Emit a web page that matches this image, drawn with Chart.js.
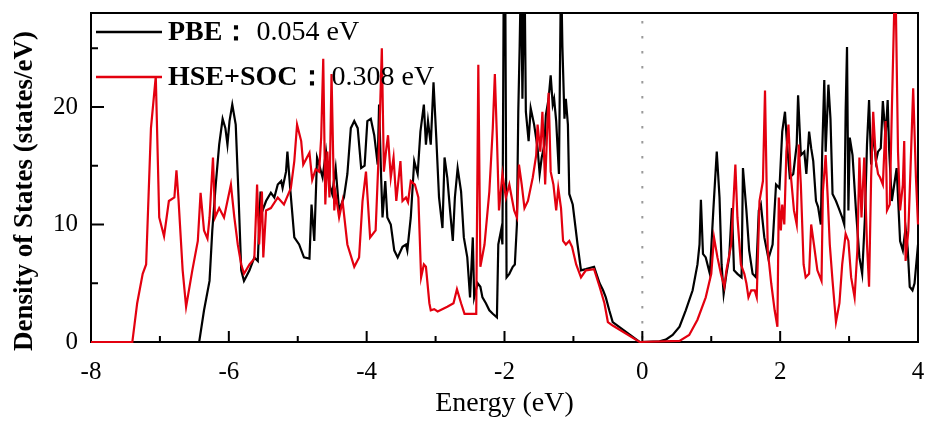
<!DOCTYPE html>
<html>
<head>
<meta charset="utf-8">
<script src="https://cdn.jsdelivr.net/npm/chart.js@4.4.1/dist/chart.umd.min.js"></script>
<style>
  html, body { margin: 0; padding: 0; background: #fff; }
  #wrap { width: 926px; height: 422px; }
</style>
</head>
<body>
<div id="wrap"><canvas id="dos"></canvas></div>
<script>
// Energy (eV) / DOS (states/eV)
const pbeEnergy = [
  -8, -6.43, -6.36, -6.28, -6.24, -6.19, -6.14, -6.09, -6.05, -6.02,
  -5.99, -5.95, -5.90, -5.86, -5.82, -5.78, -5.70, -5.63, -5.58, -5.54,
  -5.51, -5.46, -5.39, -5.34, -5.29, -5.24, -5.22, -5.17, -5.15, -5.11,
  -5.05, -4.98, -4.91, -4.83, -4.80, -4.76, -4.72, -4.69, -4.64, -4.59,
  -4.54, -4.50, -4.45, -4.40, -4.33, -4.28, -4.23, -4.18, -4.13, -4.08,
  -4.03, -3.99, -3.94, -3.89, -3.84, -3.82, -3.79, -3.77, -3.73, -3.70,
  -3.65, -3.60, -3.55, -3.48, -3.43, -3.41, -3.36, -3.31, -3.26, -3.22,
  -3.17, -3.14, -3.11, -3.07, -3.03, -2.99, -2.95, -2.90, -2.87, -2.83,
  -2.79, -2.75, -2.72, -2.68, -2.63, -2.59, -2.54, -2.50, -2.46, -2.44,
  -2.39, -2.35, -2.32, -2.27, -2.22, -2.17, -2.11, -2.09, -2.05, -2.03,
  -2.01, -1.99, -1.97, -1.93, -1.88, -1.85, -1.82, -1.80, -1.78, -1.76,
  -1.74, -1.71, -1.69, -1.65, -1.62, -1.57, -1.52, -1.49, -1.46, -1.42,
  -1.40, -1.36, -1.33, -1.30, -1.28, -1.25, -1.21, -1.18, -1.16, -1.13,
  -1.11, -1.08, -1.06, -1.01, -0.94, -0.89, -0.82, -0.70, -0.62, -0.57,
  -0.53, -0.48, -0.43, -0.04, 0.25, 0.34, 0.44, 0.54, 0.63,
  0.73, 0.80, 0.83, 0.85, 0.88, 0.92, 0.98, 1.03, 1.08, 1.12,
  1.15, 1.18, 1.22, 1.26, 1.30, 1.33, 1.38, 1.44, 1.46, 1.51,
  1.55, 1.60, 1.65, 1.69, 1.72, 1.77, 1.83, 1.89, 1.94, 1.99,
  2.03, 2.07, 2.10, 2.14, 2.19, 2.24, 2.26, 2.30, 2.35, 2.38,
  2.42, 2.45, 2.48, 2.52, 2.55, 2.59, 2.61, 2.64, 2.66, 2.70,
  2.73, 2.76, 2.81, 2.85, 2.90, 2.93, 2.95, 2.97, 2.99, 3.01,
  3.05, 3.10, 3.15, 3.19, 3.23, 3.26, 3.29, 3.32, 3.35, 3.39,
  3.42, 3.46, 3.49, 3.53, 3.56, 3.58, 3.62, 3.69, 3.74, 3.78,
  3.82, 3.85, 3.88, 3.92, 3.95, 4.00
];
const pbeDos = [
  0, 0, 2.7, 5.2, 9.5, 13.4, 16.8, 19.0, 18.2, 16.8,
  18.8, 20.2, 18.5, 12.6, 6.1, 5.2, 6.1, 7.2, 6.9, 12.8,
  11.2, 12.0, 12.7, 12.3, 13.4, 13.7, 13.1, 14.5, 16.2, 13.1,
  8.9, 8.3, 7.2, 7.1, 11.7, 8.6, 15.7, 15.1, 14.0, 16.2,
  13.4, 12.6, 14.8, 11.2, 12.3, 14.3, 18.2, 18.8, 18.2, 14.8,
  15.0, 18.8, 19.0, 17.6, 15.1, 20.2, 14.0, 10.6, 13.7, 10.6,
  10.0, 7.8, 7.2, 8.1, 8.3, 7.8, 10.6, 15.4, 14.3, 17.9,
  20.2, 16.8, 18.8, 16.8, 22.1, 17.4, 12.3, 9.7, 15.7, 14.0,
  11.2, 8.6, 12.3, 14.8, 12.8, 8.9, 7.2, 3.8, 8.9, 3.8,
  5.0, 4.7, 3.8, 3.3, 2.7, 2.4, 2.1, 8.3, 9.5, 8.3,
  32, 32, 5.5, 5.8, 6.4, 6.6, 10.0, 19.6, 25.2, 32,
  20.7, 32, 19.6, 17.1, 19.9, 18.5, 16.5, 14.3, 15.7, 16.8,
  19.3, 20.7, 22.7, 20.2, 20.7, 18.8, 14.3, 32, 25.2, 19.0,
  20.7, 18.5, 12.6, 11.7, 8.3, 6.1, 6.2, 6.4, 5.0, 4.4,
  3.8, 2.7, 1.7, 0, 0.05, 0.2, 0.6, 1.3, 2.7,
  4.4, 6.6, 8.3, 12.1, 7.5, 7.2, 5.8, 11.2, 16.2, 12.3,
  6.6, 4.1, 5.8, 7.2, 11.4, 6.1, 5.8, 5.5, 14.8, 11.2,
  7.8, 5.8, 5.5, 11.2, 11.7, 8.9, 7.1, 8.3, 13.4, 13.1,
  17.9, 19.6, 16.8, 14.0, 14.3, 16.8, 21.0, 15.9, 16.2, 14.3,
  17.9, 16.5, 15.4, 12.0, 11.5, 10.0, 16.2, 22.3, 16.2, 21.9,
  19.0, 12.6, 12.0, 11.4, 10.6, 10.0, 19.6, 25.1, 11.2, 17.4,
  15.9, 11.2, 7.2, 5.8, 10.6, 16.8, 20.6, 15.1, 17.9, 15.4,
  16.2, 16.5, 20.5, 17.4, 20.6, 16.5, 12.0, 14.8, 8.6, 7.8,
  9.7, 8.0, 4.7, 4.4, 5.0, 8.3
];

const hseEnergy = [
  -8, -7.40, -7.33, -7.25, -7.20, -7.13, -7.06, -7.01, -6.94, -6.87,
  -6.79, -6.76, -6.73, -6.67, -6.62, -6.53, -6.45, -6.41, -6.36, -6.31,
  -6.28, -6.23, -6.20, -6.14, -6.07, -5.97, -5.92, -5.87, -5.82, -5.78,
  -5.70, -5.63, -5.59, -5.56, -5.52, -5.50, -5.46, -5.39, -5.29, -5.20,
  -5.10, -5.05, -5.01, -4.95, -4.92, -4.83, -4.79, -4.74, -4.69, -4.66,
  -4.63, -4.60, -4.57, -4.54, -4.51, -4.47, -4.45, -4.40, -4.35, -4.28,
  -4.18, -4.11, -4.06, -4.01, -3.99, -3.95, -3.87, -3.82, -3.78, -3.75,
  -3.72, -3.69, -3.65, -3.61, -3.57, -3.51, -3.48, -3.43, -3.40, -3.36,
  -3.30, -3.25, -3.21, -3.17, -3.14, -3.09, -3.07, -3.02, -2.97, -2.83,
  -2.74, -2.69, -2.63, -2.58, -2.41, -2.38, -2.35, -2.29, -2.22, -2.17,
  -2.14, -2.11, -2.08, -2.03, -1.98, -1.93, -1.86, -1.82, -1.79, -1.75,
  -1.71, -1.66, -1.59, -1.54, -1.52, -1.48, -1.45, -1.41, -1.36, -1.33,
  -1.29, -1.25, -1.22, -1.18, -1.15, -1.11, -1.06, -1.02, -0.96, -0.89,
  -0.82, -0.70, -0.62, -0.55, -0.50, -0.43, -0.04, 0.54, 0.68, 0.80,
  0.92, 1.00, 1.04, 1.09, 1.14, 1.19, 1.22, 1.29, 1.32, 1.35,
  1.38, 1.43, 1.48, 1.51, 1.54, 1.58, 1.63, 1.66, 1.70, 1.75,
  1.78, 1.82, 1.87, 1.92, 1.96, 1.98, 2.01, 2.03, 2.06, 2.09,
  2.12, 2.15, 2.20, 2.24, 2.27, 2.30, 2.34, 2.37, 2.42, 2.45,
  2.49, 2.54, 2.60, 2.62, 2.66, 2.69, 2.72, 2.76, 2.81, 2.86,
  2.90, 2.95, 2.99, 3.03, 3.08, 3.12, 3.15, 3.18, 3.22, 3.26,
  3.29, 3.32, 3.35, 3.39, 3.42, 3.45, 3.49, 3.53, 3.55, 3.59,
  3.62, 3.67, 3.71, 3.74, 3.78, 3.80, 3.82, 3.86, 3.89, 3.93,
  3.97, 4.00
];
const hseDos = [
  0, 0, 3.3, 5.8, 6.6, 18.2, 22.6, 10.6, 9.0, 12.0,
  12.3, 14.6, 12.1, 6.1, 3.0, 6.1, 8.6, 12.7, 9.5, 8.8,
  10.6, 15.7, 10.6, 11.4, 10.6, 13.4, 10.6, 8.3, 6.6, 5.8,
  6.6, 7.1, 13.4, 8.3, 12.8, 7.2, 11.2, 11.4, 12.3, 11.7,
  13.1, 15.4, 18.5, 17.1, 15.1, 16.1, 13.8, 14.7, 14.5, 17.4,
  24.1, 11.7, 16.2, 12.3, 22.8, 11.2, 12.6, 10.6, 12.0, 8.3,
  6.4, 7.2, 12.0, 14.5, 12.6, 8.9, 9.5, 16.8, 25.0, 14.5,
  16.2, 17.6, 14.0, 15.7, 12.0, 15.4, 12.0, 12.3, 11.9, 13.7,
  13.4, 12.3, 5.5, 6.6, 6.4, 3.3, 2.7, 2.8, 2.6, 3.0,
  3.3, 4.5, 3.3, 2.4, 2.4, 23.6, 6.4, 8.3, 12.8, 18.2,
  22.8, 17.4, 11.2, 14.3, 12.3, 13.4, 11.2, 10.6, 15.1, 13.4,
  11.4, 12.0, 14.0, 15.9, 18.5, 16.2, 19.6, 13.4, 21.2, 14.5,
  13.4, 11.2, 13.1, 11.4, 8.6, 8.3, 8.6, 8.1, 6.6, 5.5,
  6.1, 6.2, 4.7, 3.3, 1.7, 1.4, 0, 0.1, 0.6, 1.9,
  3.8, 5.8, 8.9, 7.2, 5.8, 4.7, 6.1, 8.3, 11.7, 15.1,
  10.6, 6.6, 5.8, 5.0, 3.8, 4.4, 4.4, 3.8, 12.0, 13.7,
  21.4, 7.8, 5.0, 2.7, 1.3, 12.3, 9.5, 11.7, 10.0, 16.2,
  18.5, 14.5, 11.2, 10.0, 16.8, 13.4, 6.6, 5.5, 5.8, 10.0,
  8.3, 6.1, 5.2, 12.8, 15.9, 12.3, 8.3, 5.2, 1.7, 3.3,
  6.6, 9.2, 8.6, 5.5, 3.8, 7.8, 15.7, 10.6, 15.7, 8.3,
  4.7, 14.0, 19.6, 15.4, 14.3, 14.0, 13.4, 18.8, 11.2, 11.7,
  19.6, 32, 16.2, 11.2, 13.4, 17.1, 6.9, 9.5, 14.5, 21.6,
  14.0, 10.0
];

const xTickValues = [-8, -6, -4, -2, 0, 2, 4];
const yTickValues = [0, 10, 20];
const xMinorValues = [-7, -5, -3, -1, 1, 3];
const yMinorValues = [5, 15, 25];

const legendItems = [
  { bold: 'PBE：', value: '0.054 eV', color: '#000000' },
  { bold: 'HSE+SOC：', value: '0.308 eV', color: '#e3000f' }
];

const SERIF = "'Liberation Serif', 'Times New Roman', serif";

function toPoints(xs, ys) {
  return xs.map((x, i) => ({ x: x, y: ys[i] }));
}

// frame, inward ticks and Fermi level line go under the curves,
// legend and y title on top
const decorPlugin = {
  id: 'decor',
  beforeDatasetsDraw(chart) {
    const { ctx, chartArea: a, scales } = chart;
    const x0 = scales.x.getPixelForValue(0);
    ctx.save();
    ctx.strokeStyle = '#9a9a9a';
    ctx.lineWidth = 2;
    ctx.setLineDash([2.5, 12.5]);
    ctx.beginPath();
    ctx.moveTo(x0, a.top + 8);
    ctx.lineTo(x0, a.bottom);
    ctx.stroke();

    ctx.strokeStyle = '#000';
    ctx.lineWidth = 2;
    ctx.setLineDash([]);
    ctx.strokeRect(a.left, a.top, a.right - a.left, a.bottom - a.top);

    ctx.beginPath();
    xTickValues.forEach(v => {
      const px = scales.x.getPixelForValue(v);
      ctx.moveTo(px, a.bottom); ctx.lineTo(px, a.bottom - 11);
    });
    xMinorValues.forEach(v => {
      const px = scales.x.getPixelForValue(v);
      ctx.moveTo(px, a.bottom); ctx.lineTo(px, a.bottom - 6);
    });
    yTickValues.forEach(v => {
      const py = scales.y.getPixelForValue(v);
      ctx.moveTo(a.left, py); ctx.lineTo(a.left + 13, py);
    });
    yMinorValues.forEach(v => {
      const py = scales.y.getPixelForValue(v);
      ctx.moveTo(a.left, py); ctx.lineTo(a.left + 7, py);
    });
    ctx.stroke();
    ctx.restore();
  },
  afterDraw(chart) {
    const { ctx, chartArea: a } = chart;
    ctx.save();
    // legend
    legendItems.forEach((item, i) => {
      const ly = 32 + i * 45;
      ctx.strokeStyle = item.color;
      ctx.lineWidth = 2.5;
      ctx.beginPath();
      ctx.moveTo(a.left + 5, ly);
      ctx.lineTo(a.left + 71, ly);
      ctx.stroke();
      ctx.fillStyle = '#000';
      ctx.textBaseline = 'alphabetic';
      ctx.textAlign = 'left';
      ctx.font = 'bold 28px ' + SERIF;
      ctx.fillText(item.bold, a.left + 77, ly + 8);
      const w = ctx.measureText(item.bold).width;
      ctx.font = '28px ' + SERIF;
      ctx.fillText(item.value, a.left + 77 + w + 6, ly + 8);
    });

    // y axis title
    ctx.translate(25, 191);
    ctx.rotate(-Math.PI / 2);
    ctx.font = 'bold 27px ' + SERIF;
    ctx.fillStyle = '#000';
    ctx.textAlign = 'center';
    ctx.textBaseline = 'middle';
    ctx.fillText('Density of States (states/eV)', 0, 0);
    ctx.restore();
  }
};

new Chart(document.getElementById('dos'), {
  type: 'line',
  data: {
    datasets: [
      {
        label: 'HSE+SOC',
        data: toPoints(hseEnergy, hseDos),
        borderColor: '#e3000f',
        borderWidth: 2.2,
        pointRadius: 0,
        tension: 0,
        clip: { left: 2, right: 2, top: 0, bottom: 3 },
        order: 0
      },
      {
        label: 'PBE',
        data: toPoints(pbeEnergy, pbeDos),
        borderColor: '#000000',
        borderWidth: 2.2,
        pointRadius: 0,
        tension: 0,
        clip: { left: 2, right: 2, top: 0, bottom: 3 },
        order: 1
      }
    ]
  },
  options: {
    responsive: true,
    maintainAspectRatio: false,
    animation: false,
    layout: { padding: { left: 0, right: 8, top: 13, bottom: 0 } },
    plugins: {
      legend: { display: false },
      tooltip: { enabled: false }
    },
    scales: {
      x: {
        type: 'linear',
        min: -8,
        max: 4,
        afterBuildTicks: scale => { scale.ticks = xTickValues.map(v => ({ value: v })); },
        afterFit: scale => {
          scale.height = 80;
          scale.paddingLeft = 0;
          scale.paddingRight = 0;
        },
        grid: { display: false, drawTicks: false },
        border: { display: false },
        ticks: {
          padding: 15,
          color: '#000',
          font: { family: SERIF, size: 25 },
          maxRotation: 0
        },
        title: {
          display: true,
          text: 'Energy (eV)',
          color: '#000',
          font: { family: SERIF, size: 28 },
          padding: { top: 0, bottom: 2 }
        }
      },
      y: {
        type: 'linear',
        min: 0,
        max: 28,
        afterBuildTicks: scale => { scale.ticks = yTickValues.map(v => ({ value: v })); },
        afterFit: scale => {
          scale.width = 91;
          scale.paddingTop = 0;
          scale.paddingBottom = 0;
        },
        grid: { display: false, drawTicks: false },
        border: { display: false },
        ticks: {
          padding: 13,
          color: '#000',
          font: { family: SERIF, size: 25 }
        }
      }
    }
  },
  plugins: [decorPlugin]
});
</script>
</body>
</html>
